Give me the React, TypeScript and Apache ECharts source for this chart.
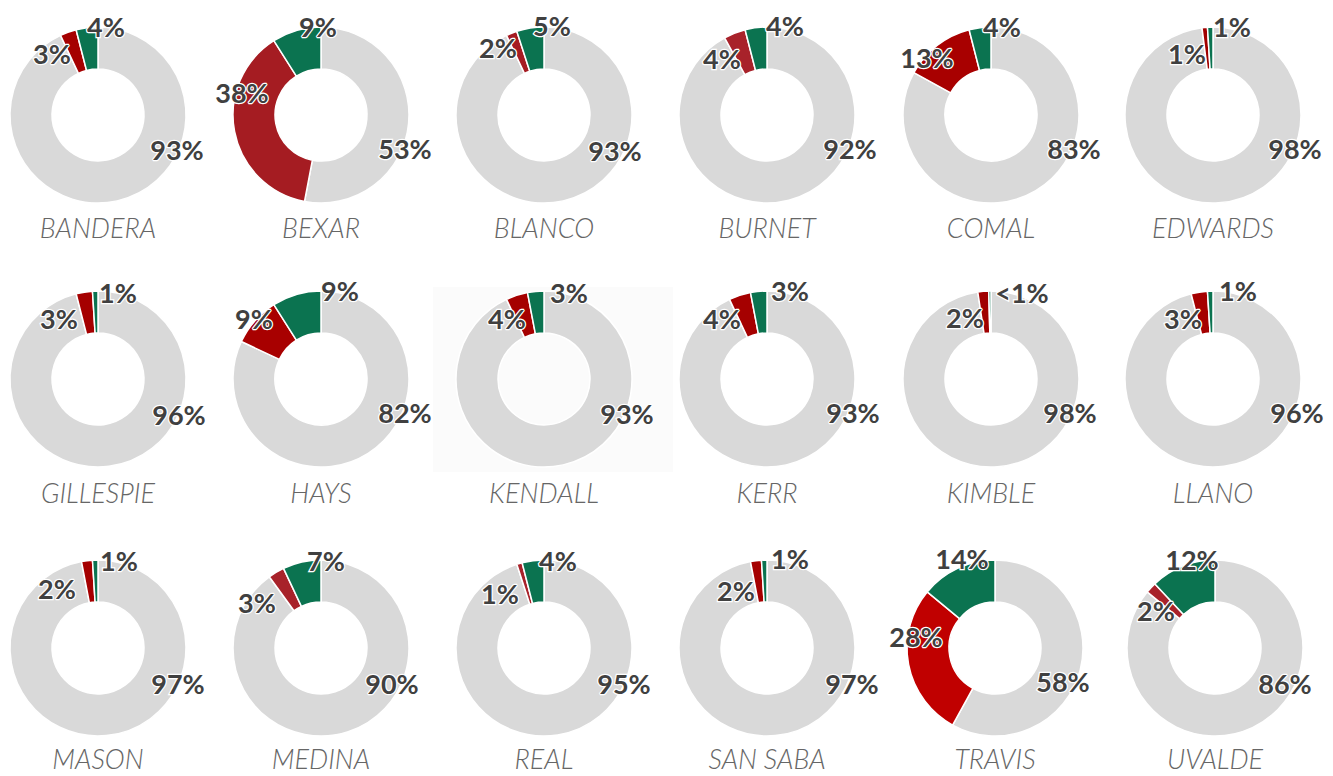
import React, { useEffect, useRef } from "react";
import * as echarts from "echarts";

// ---- data ----
const counties = [
  "BANDERA", "BEXAR", "BLANCO", "BURNET", "COMAL", "EDWARDS",
  "GILLESPIE", "HAYS", "KENDALL", "KERR", "KIMBLE", "LLANO",
  "MASON", "MEDINA", "REAL", "SAN SABA", "TRAVIS", "UVALDE",
];
const grayShare = [93, 53, 93, 92, 83, 98, 96, 82, 93, 93, 97.6, 96, 97, 90, 95, 97, 58, 86];
const redShare = [3, 38, 2, 4, 13, 1, 3, 9, 4, 4, 2, 3, 2, 3, 1, 2, 28, 2];
const greenShare = [4, 9, 5, 4, 4, 1, 1, 9, 3, 3, 0.4, 1, 1, 7, 4, 1, 14, 12];

// ---- styles / layout ----
const redColors = [
  "#A50000", "#A51C22", "#A51C22", "#A8222A", "#A80000", "#A00000",
  "#A50000", "#A80000", "#A50000", "#A50000", "#A00000", "#A50000",
  "#A50000", "#A8222A", "#A8222A", "#A50000", "#C00000", "#A8222A",
];
const GRAY = "#D9D9D9";
const GREEN = "#0B7350";
const COL_X = [98, 321, 544, 767, 991, 1213];
const ROW_Y = [115, 379, 648];
const NAME_Y = [227, 492, 758];
const R_OUT = 88;
const R_IN = 46;
// label offsets from pie centre: [gray, red, green]
const labelOffsets: number[][][] = [
  [[79, 34], [-46, -62], [8, -89]],
  [[84, 33], [-79, -23], [-3, -89]],
  [[71, 35], [-46, -68], [8, -90]],
  [[83, 33], [-45, -57], [18, -90]],
  [[83, 33], [-64, -58], [11, -89]],
  [[82, 33], [-26, -62], [19, -89]],
  [[81, 35], [-39, -61], [20, -87]],
  [[84, 33], [-67, -61], [19, -89]],
  [[83, 34], [-37, -61], [25, -87]],
  [[86, 33], [-45, -61], [23, -89]],
  [[79, 33], [-26, -62], [31, -87]],
  [[84, 33], [-30, -61], [25, -89]],
  [[80, 35], [-41, -60], [21, -88]],
  [[71, 35], [-64, -46], [5, -88]],
  [[80, 35], [-44, -55], [14, -88]],
  [[85, 35], [-31, -58], [23, -90]],
  [[68, 33], [-79, -12], [-33, -90]],
  [[70, 35], [-59, -38], [-23, -89]],
];
const centerNudge = [0, 0, 0, 0, 0, 0, 0, 0, 0, 0, 0, 0, 0, 0, 0, 0, 4, 2];

const fmt = (v: number) => (v < 1 ? "<1%" : Math.round(v) + "%");

export default function App() {
  const ref = useRef<HTMLDivElement>(null);
  useEffect(() => {
    if (!ref.current) return;
    const chart = echarts.init(ref.current, null, { renderer: "svg" });
    const centers = counties.map((_, i) => [
      COL_X[i % 6] + centerNudge[i],
      ROW_Y[Math.floor(i / 6)],
    ]);
    const series = counties.map((name, i) => ({
      type: "pie",
      name,
      center: centers[i],
      radius: [R_IN, R_OUT],
      startAngle: 90,
      clockwise: true,
      avoidLabelOverlap: false,
      silent: true,
      itemStyle: { borderColor: "#FFFFFF", borderWidth: 1.5 },
      label: {
        show: true,
        position: "outside",
        formatter: (p: any) => fmt(p.value),
        fontFamily: "Lato, 'Open Sans', sans-serif",
        fontWeight: "bold",
        fontSize: 27,
        color: "#404040",
        textBorderColor: "#FFFFFF",
        textBorderWidth: 2.5,
      },
      labelLine: { show: false },
      labelLayout: (p: any) => {
        const off = labelOffsets[i][p.dataIndex];
        return {
          x: centers[i][0] + off[0],
          y: centers[i][1] + off[1],
          align: "center",
          verticalAlign: "middle",
        };
      },
      data: [
        { name: "gray", value: grayShare[i], itemStyle: { color: GRAY } },
        { name: "red", value: redShare[i], itemStyle: { color: redColors[i] } },
        { name: "green", value: greenShare[i], itemStyle: { color: GREEN } },
      ],
    }));
    const graphics: any[] = [
      {
        type: "rect",
        z: -10,
        shape: { x: 433, y: 287, width: 240, height: 185 },
        style: { fill: "#FBFBFB" },
      },
      ...counties.map((name, i) => ({
        type: "text",
        x: centers[i][0],
        y: NAME_Y[Math.floor(i / 6)],
        style: {
          text: name,
          align: "center",
          verticalAlign: "middle",
          fontFamily: "Lato, 'Open Sans', sans-serif",
          fontStyle: "italic",
          fontWeight: 300,
          fontSize: 27,
          fill: "#666666",
        },
      })),
    ];
    chart.setOption({
      animation: false,
      backgroundColor: "#FFFFFF",
      graphic: graphics,
      series,
    });
    return () => chart.dispose();
  }, []);
  return (
    <div
      ref={ref}
      style={{ position: "fixed", left: 0, top: 0, width: 1333, height: 776 }}
    />
  );
}
